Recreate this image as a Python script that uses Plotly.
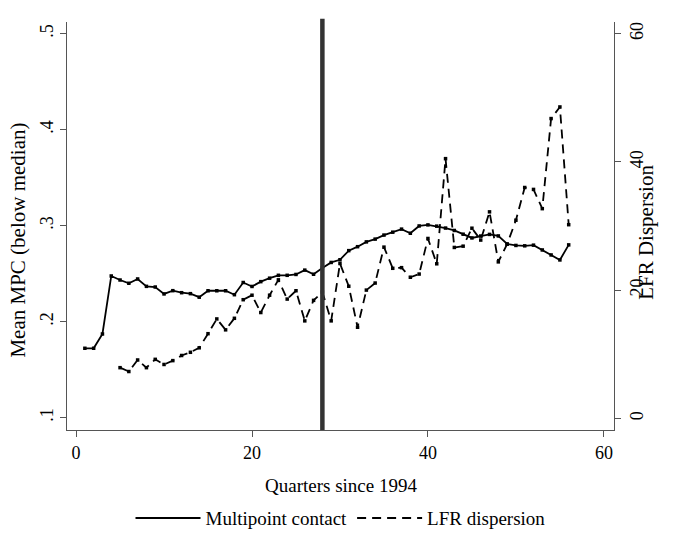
import plotly.graph_objects as go

quarters_mpc = list(range(1, 57))
mpc = [0.1723, 0.1723, 0.1872, 0.2476, 0.2434, 0.2400, 0.2445, 0.2368, 0.2361, 0.2289,
       0.2323, 0.2302, 0.2292, 0.2255, 0.2322, 0.2322, 0.2322, 0.2281, 0.2408, 0.2367,
       0.2417, 0.2453, 0.2483, 0.2483, 0.2492, 0.2537, 0.2494, 0.2560, 0.2617, 0.2645,
       0.2740, 0.2781, 0.2831, 0.2860, 0.2902, 0.2932, 0.2964, 0.2921, 0.2997, 0.3008,
       0.2995, 0.2975, 0.2950, 0.2911, 0.2872, 0.2892, 0.2909, 0.2893, 0.2809, 0.2794,
       0.2790, 0.2797, 0.2747, 0.2695, 0.2643, 0.2800]

quarters_lfr = list(range(5, 57))
lfr = [7.9, 7.3, 9.1, 7.9, 9.2, 8.4, 9.0, 9.8, 10.3, 11.0,
       13.2, 15.5, 13.8, 15.6, 18.5, 19.2, 16.5, 19.2, 21.6, 18.6,
       19.9, 15.2, 18.4, 19.7, 15.2, 24.15, 20.6, 14.2, 20.0, 21.1,
       26.7, 23.4, 23.5, 22.0, 22.5, 28.05, 24.1, 40.5, 26.65, 26.85,
       29.65, 27.8, 32.2, 24.4, 27.16, 30.9, 36.0, 35.7, 32.7, 46.75,
       48.56, 30.2]

break_quarter = 28

x_ticks = [0, 20, 40, 60]
left_ticks = [0.1, 0.2, 0.3, 0.4, 0.5]
left_ticktext = [".1", ".2", ".3", ".4", ".5"]
right_ticks = [0, 20, 40, 60]

FONT = "Liberation Serif"
AX = "#555555"

fig = go.Figure()
fig.add_trace(go.Scatter(x=quarters_mpc, y=mpc, mode="lines", name="Multipoint contact",
                         line=dict(color="black", width=1.8), yaxis="y"))
fig.add_trace(go.Scatter(x=quarters_mpc, y=mpc, mode="markers", showlegend=False,
                         marker=dict(color="black", size=3.5, symbol="square"), yaxis="y"))
fig.add_trace(go.Scatter(x=quarters_lfr, y=lfr, mode="lines", name="LFR dispersion",
                         line=dict(color="black", width=1.8, dash="9px,6px"), yaxis="y2"))
fig.add_trace(go.Scatter(x=quarters_lfr, y=lfr, mode="markers", showlegend=False,
                         marker=dict(color="black", size=3.5, symbol="square"), yaxis="y2"))

fig.add_shape(type="line", xref="x", yref="paper", x0=break_quarter, x1=break_quarter,
              y0=0, y1=1.008, line=dict(color="#333333", width=4.5))

fig.update_layout(
    width=681, height=553,
    margin=dict(l=67, r=66.5, t=22, b=123, autoexpand=False),
    paper_bgcolor="white", plot_bgcolor="white",
    font=dict(family=FONT, size=18, color="black"),
    showlegend=True,
    legend=dict(orientation="h", x=0.5, xanchor="center", xref="container",
                y=0.063, yanchor="middle", yref="container",
                font=dict(size=19), itemwidth=65, bgcolor="rgba(0,0,0,0)"),
    xaxis=dict(range=[-1.03, 61.15], tickvals=x_ticks, showgrid=False, zeroline=False,
               showline=True, linecolor=AX, linewidth=1, ticks="outside", ticklen=6,
               tickcolor=AX, tickfont=dict(size=18), automargin=False),
    yaxis=dict(range=[0.0872, 0.5121], tickvals=left_ticks, ticktext=left_ticktext,
               tickangle=-90, showgrid=False, zeroline=False, showline=True, linecolor=AX,
               linewidth=1, ticks="outside", ticklen=6, tickcolor=AX, tickfont=dict(size=18),
               automargin=False),
    yaxis2=dict(range=[-1.82, 61.81], tickvals=right_ticks, overlaying="y", side="right",
                tickangle=-90, showgrid=False, zeroline=False, showline=True, linecolor=AX,
                linewidth=1, ticks="outside", ticklen=6, tickcolor=AX, tickfont=dict(size=18),
                automargin=False),
    annotations=[
        dict(text="Quarters since 1994", xref="paper", yref="paper", x=0.5, y=-0.135,
             xanchor="center", yanchor="middle", showarrow=False, font=dict(size=19)),
        dict(text="Mean MPC (below median)", xref="paper", yref="paper", x=-0.089, y=0.465,
             xanchor="center", yanchor="middle", textangle=-90, showarrow=False,
             font=dict(size=21)),
        dict(text="LFR Dispersion", xref="paper", yref="paper", x=1.058, y=0.485,
             xanchor="center", yanchor="middle", textangle=-90, showarrow=False,
             font=dict(size=21)),
    ],
)

fig.write_html("out.html")
